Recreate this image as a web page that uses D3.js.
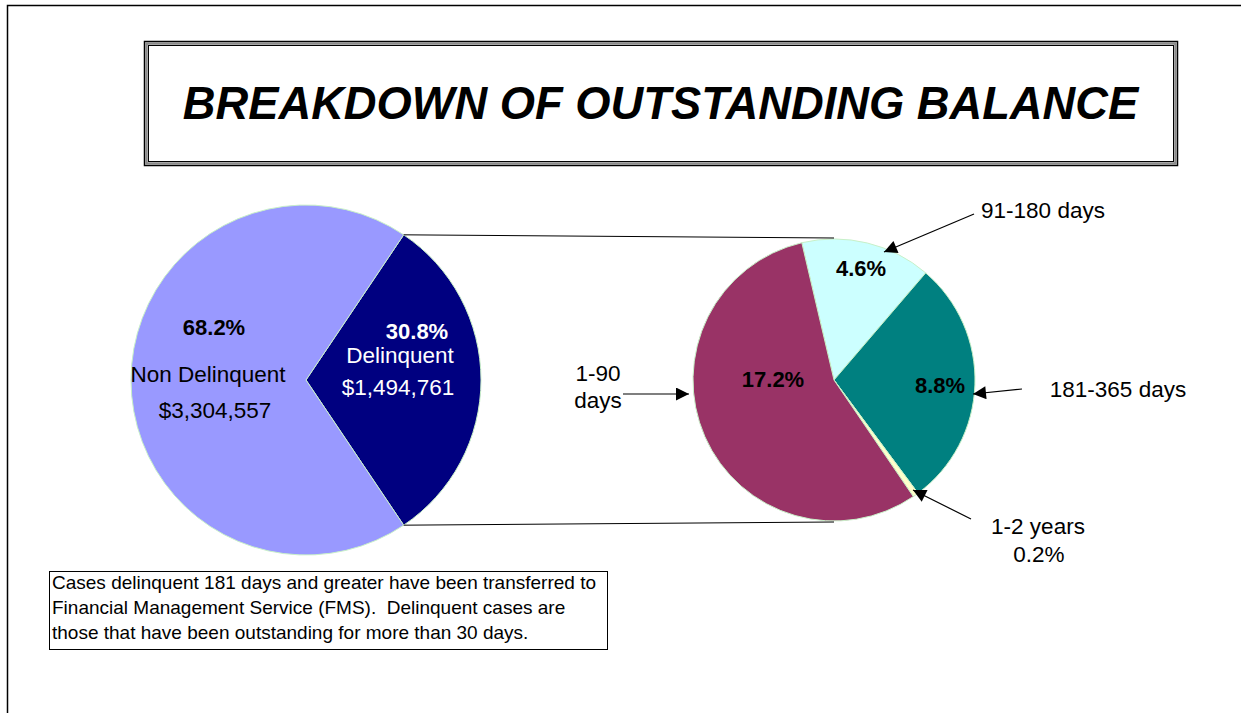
<!DOCTYPE html>
<html>
<head>
<meta charset="utf-8">
<script src="https://cdn.jsdelivr.net/npm/d3@7"></script>
<style>
  html, body { margin: 0; padding: 0; background: #fff; }
  svg { display: block; font-family: Arial, "Liberation Sans", sans-serif; }
  text { white-space: pre; }
</style>
</head>
<body>
<svg id="chart" width="1241" height="713"></svg>
<script>
// ---- Data ----
const titleText = "BREAKDOWN OF OUTSTANDING BALANCE";
const mainCategories = ["Delinquent", "Non Delinquent"];
const mainValues = [1494761, 3304557];
const mainPercentLabels = ["30.8%", "68.2%"];
const mainAmountLabels = ["$1,494,761", "$3,304,557"];
const mainColors = ["#000080", "#9999FF"];

const detailCategories = ["91-180 days", "181-365 days", "1-2 years", "1-90 days"];
const detailValues = [4.6, 8.8, 0.2, 17.2];
const detailPercentLabels = ["4.6%", "8.8%", "0.2%", "17.2%"];
const detailColors = ["#CCFFFF", "#008080", "#FFFFCC", "#993366"];

const noteLines = [
  "Cases delinquent 181 days and greater have been transferred to",
  "Financial Management Service (FMS).  Delinquent cases are",
  "those that have been outstanding for more than 30 days."
];

// ---- Layout ----
const svg = d3.select("#chart");
const deg = Math.PI / 180;

// outer frame
svg.append("rect").attr("x", 7.5).attr("y", 5.5).attr("width", 1400).attr("height", 900)
  .attr("fill", "none").attr("stroke", "#000").attr("stroke-width", 1.5);

// title box (double border)
svg.append("rect").attr("x", 144.5).attr("y", 41.5).attr("width", 1033).attr("height", 124)
  .attr("fill", "#fff").attr("stroke", "#000").attr("stroke-width", 1.5);
svg.append("rect").attr("x", 146.5).attr("y", 43.5).attr("width", 1029).attr("height", 120)
  .attr("fill", "none").attr("stroke", "#8a8a8a").attr("stroke-width", 2.5);
svg.append("rect").attr("x", 148.5).attr("y", 45.5).attr("width", 1025).attr("height", 116)
  .attr("fill", "none").attr("stroke", "#000").attr("stroke-width", 1);
svg.append("text").attr("x", 660.5).attr("y", 119).attr("text-anchor", "middle")
  .attr("font-size", 45.3).attr("font-weight", "bold").attr("font-style", "italic")
  .text(titleText);

// ---- Main pie ----
const c1 = { x: 306, y: 380 }, r1 = 175;
const delinqShare = mainValues[0] / d3.sum(mainValues);
const start1 = Math.PI / 2 - delinqShare * Math.PI;
const pie1 = d3.pie().sort(null).value(d => d).startAngle(start1).endAngle(start1 + 2 * Math.PI);
const arcs1 = pie1(mainValues);
const arc1 = d3.arc().innerRadius(0).outerRadius(r1);
const g1 = svg.append("g").attr("transform", `translate(${c1.x},${c1.y})`);
g1.selectAll("path").data(arcs1).join("path")
  .attr("d", arc1).attr("fill", (d, i) => mainColors[i])
  .attr("stroke", "#c8f0c8").attr("stroke-width", 1);

// ---- Detail pie ----
const c2 = { x: 834, y: 380 }, r2 = 141;
const start2 = -13.2 * deg;
const pie2 = d3.pie().sort(null).value(d => d).startAngle(start2).endAngle(start2 + 2 * Math.PI);
const arcs2 = pie2(detailValues);
const arc2 = d3.arc().innerRadius(0).outerRadius(r2);
const g2 = svg.append("g").attr("transform", `translate(${c2.x},${c2.y})`);
g2.selectAll("path").data(arcs2).join("path")
  .attr("d", arc2).attr("fill", (d, i) => detailColors[i])
  .attr("stroke", "#c8f0c8").attr("stroke-width", 1);

// connector lines from delinquent slice edges to detail pie
const dl = arcs1[0];
const pt = (c, r, a) => [c.x + r * Math.sin(a), c.y - r * Math.cos(a)];
const pA = pt(c1, r1, dl.startAngle), pB = pt(c1, r1, dl.endAngle);
svg.append("line").attr("x1", pA[0]).attr("y1", pA[1]).attr("x2", c2.x).attr("y2", c2.y - r2 - 1)
  .attr("stroke", "#000").attr("stroke-width", 1);
svg.append("line").attr("x1", pB[0]).attr("y1", pB[1]).attr("x2", c2.x).attr("y2", c2.y + r2 + 1)
  .attr("stroke", "#000").attr("stroke-width", 1);

// ---- Labels ----
const lab = (x, y, t, opts = {}) => svg.append("text").attr("x", x).attr("y", y)
  .attr("text-anchor", "middle").attr("font-size", opts.size || 22.5)
  .attr("font-weight", opts.bold ? "bold" : "normal")
  .attr("fill", opts.fill || "#000").text(t);

lab(214, 335, mainPercentLabels[1], { bold: true, size: 22 });
lab(208, 382, mainCategories[1]);
lab(215, 418, mainAmountLabels[1]);
lab(417, 339, mainPercentLabels[0], { bold: true, fill: "#fff", size: 22 });
lab(400, 363, mainCategories[0], { fill: "#fff" });
lab(398, 395, mainAmountLabels[0], { fill: "#fff" });

lab(861, 276, detailPercentLabels[0], { bold: true, size: 22 });
lab(940, 393, detailPercentLabels[1], { bold: true, size: 22 });
lab(773, 387, detailPercentLabels[3], { bold: true, size: 22 });

// outside labels
lab(1043, 218, detailCategories[0]);
lab(1118, 397, detailCategories[1]);
lab(1038, 534, detailCategories[2]);
lab(1039, 562, detailPercentLabels[2]);
const d190 = detailCategories[3].split(" ");
lab(598, 381, d190[0]);
lab(598, 408, d190[1]);

// arrows
const defs = svg.append("defs");
defs.append("marker").attr("id", "ah").attr("viewBox", "0 0 10 10")
  .attr("refX", 10).attr("refY", 5).attr("markerWidth", 15).attr("markerHeight", 13)
  .attr("markerUnits", "userSpaceOnUse").attr("orient", "auto")
  .append("path").attr("d", "M0,0 L10,5 L0,10 Z").attr("fill", "#000");
const arrows = [
  [974, 214, 884, 252],
  [1022, 389, 973, 394],
  [971, 519, 913, 490],
  [623, 394, 689, 394]
];
svg.selectAll("line.arrow").data(arrows).join("line").attr("class", "arrow")
  .attr("x1", d => d[0]).attr("y1", d => d[1]).attr("x2", d => d[2]).attr("y2", d => d[3])
  .attr("stroke", "#000").attr("stroke-width", 1.2).attr("marker-end", "url(#ah)");

// ---- Note box ----
svg.append("rect").attr("x", 49.5).attr("y", 571.5).attr("width", 558).attr("height", 78)
  .attr("fill", "#fff").attr("stroke", "#000").attr("stroke-width", 1);
svg.selectAll("text.note").data(noteLines).join("text").attr("class", "note")
  .attr("x", 52).attr("y", (d, i) => 589 + i * 25).attr("font-size", 19)
  .text(d => d);
</script>
</body>
</html>
